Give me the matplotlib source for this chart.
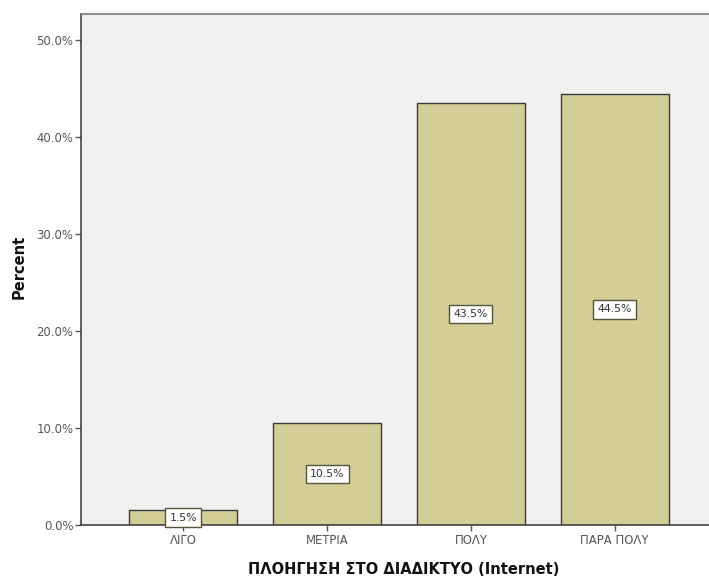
import matplotlib
matplotlib.use("Agg")
import matplotlib.pyplot as plt
from matplotlib.ticker import FuncFormatter

categories = ["ΛΙΓΟ", "ΜΕΤΡΙΑ", "ΠΟΛΥ", "ΠΑΡΑ ΠΟΛΥ"]
percents = [1.5, 10.5, 43.5, 44.5]
yticks = [0, 10, 20, 30, 40, 50]

plt.rcParams['font.family'] = ['DejaVu Sans']

fig = plt.figure(figsize=(7.09, 5.78), dpi=100)
fig.patch.set_facecolor("white")
ax = fig.add_axes([81/709, 53/578, 1 - 81/709, (525-14)/578])
ax.set_facecolor("#F0F0F0")

x = list(range(len(categories)))
bars = ax.bar(x, percents, width=0.75, color="#D3CE97", edgecolor="#3a3a3a", linewidth=1.0, zorder=2)

for xi, p in zip(x, percents):
    ax.text(xi, p / 2, f"{p:.1f}%", ha="center", va="center", fontsize=7.8, color="#333333",
            bbox=dict(boxstyle="square,pad=0.4", facecolor="white", edgecolor="#55553a", linewidth=1.0),
            zorder=3)

ax.set_xlim(-0.712, 3.656)
ax.set_ylim(0, 52.7)
ax.set_yticks(yticks)
ax.yaxis.set_major_formatter(FuncFormatter(lambda v, _: f"{v:.1f}%"))
ax.set_xticks(x)
ax.set_xticklabels(categories)
ax.tick_params(axis="both", labelsize=8.4, colors="#555555", length=4, width=1, direction="out")
ax.tick_params(axis="y", pad=1.5)
ax.tick_params(axis="x", pad=2.5)

for s in ["left", "bottom"]:
    ax.spines[s].set_color("#444444")
    ax.spines[s].set_linewidth(1.2)
ax.spines["top"].set_color("#7a7a7a")
ax.spines["top"].set_linewidth(1.2)
ax.spines["right"].set_visible(False)

ax.set_ylabel("Percent", fontsize=10.5, fontweight="bold", color="#111111")
ax.yaxis.set_label_coords((27 - 81) / 628, 0.505)
fig.text(404/709, 1 - 569/578, "ΠΛΟΗΓΗΣΗ ΣΤΟ ΔΙΑΔΙΚΤΥΟ (Internet)", ha="center", va="center",
         fontsize=10.5, fontweight="bold", color="#111111")

fig.savefig("out.png", dpi=100)
